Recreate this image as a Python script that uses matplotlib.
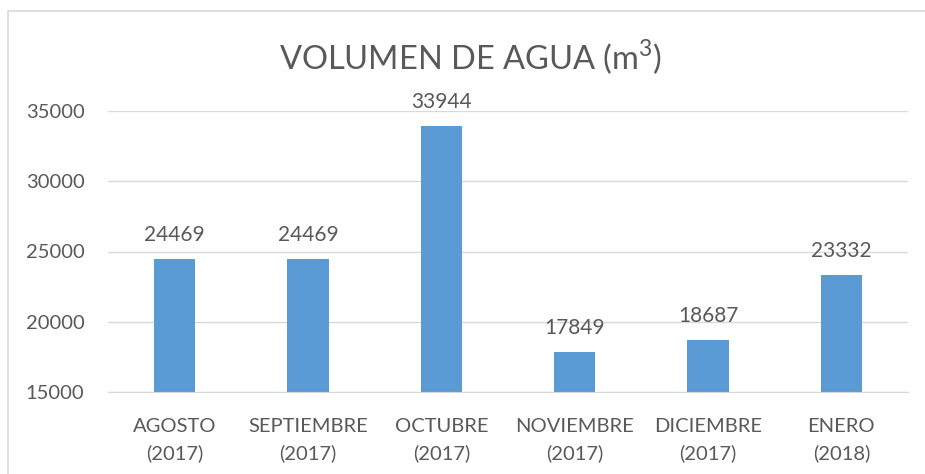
import matplotlib
matplotlib.use("Agg")
import matplotlib.pyplot as plt
from matplotlib.patches import Rectangle

categories = ["AGOSTO\n(2017)", "SEPTIEMBRE\n(2017)", "OCTUBRE\n(2017)",
              "NOVIEMBRE\n(2017)", "DICIEMBRE\n(2017)", "ENERO\n(2018)"]
values = [24469, 24469, 33944, 17849, 18687, 23332]
yticks = [15000, 20000, 25000, 30000, 35000]
title = "VOLUMEN DE AGUA (m$^3$)"

plt.rcParams['font.family'] = ['Lato', 'DejaVu Sans']
plt.rcParams['mathtext.fontset'] = 'custom'
plt.rcParams['mathtext.rm'] = 'Lato'
text_color = '#595959'

W, H = 925, 474
fig = plt.figure(figsize=(W/100, H/100), dpi=100)
fig.patch.set_facecolor('white')
# chart border
fig.add_artist(Rectangle((8/W, -0.1), 1.2, (H-11)/H + 0.1, transform=fig.transFigure,
                         fill=False, edgecolor='#D9D9D9', linewidth=1.2))

ax = fig.add_axes([108/W, 1-392/H, 800/W, 281/H])
x = list(range(len(categories)))
ax.bar(x, [v - 15000 for v in values], bottom=15000, width=0.31, color='#5B9BD5', zorder=3)
ax.set_xlim(-0.5, len(categories) - 0.5)
ax.set_ylim(15000, 35000)
ax.set_yticks(yticks)
ax.set_yticklabels([str(t) for t in yticks], fontsize=14.5, color=text_color)
ax.set_xticks(x)
ax.set_xticklabels(categories, fontsize=14.5, color=text_color, linespacing=1.6)
ax.tick_params(axis='both', length=0)
ax.tick_params(axis='y', pad=17)
ax.tick_params(axis='x', pad=19)
ax.grid(axis='y', color='#D9D9D9', linewidth=1, zorder=0)
for s in ['top', 'right', 'left']:
    ax.spines[s].set_visible(False)
ax.spines['bottom'].set_color('#D9D9D9')
ax.spines['bottom'].set_zorder(4)

for xi, v in zip(x, values):
    ax.annotate(str(v), (xi, v), xytext=(0, 10), textcoords='offset points',
                ha='center', va='bottom', fontsize=15, color=text_color)

fig.text(471/W, 1-57/H, title, ha='center', va='center', fontsize=23.5, color=text_color)

fig.savefig('out.png', dpi=100, facecolor='white')
